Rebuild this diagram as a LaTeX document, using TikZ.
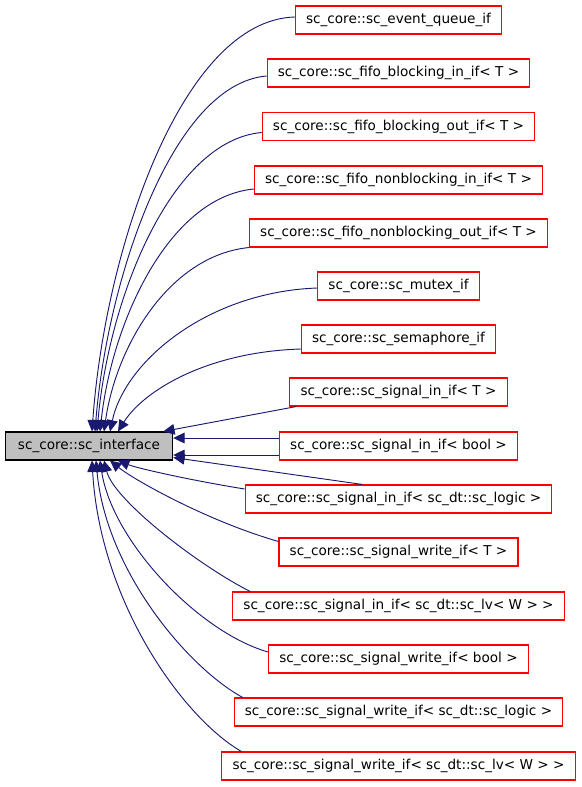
\documentclass[tikz,border=0pt]{standalone}
\usepackage{fontspec}
\setmainfont{DejaVu Sans}
\usetikzlibrary{arrows.meta,calc}
\definecolor{dgEdge}{HTML}{191970}
\definecolor{dgRed}{HTML}{FF0000}
\definecolor{dgGray}{HTML}{BFBFBF}
\tikzset{
  cls/.style={draw=dgRed, line width=0.8pt, fill=white, minimum height=21pt,
    inner xsep=8pt, inner ysep=0pt, font=\fontsize{10.2}{12}\selectfont},
  base/.style={cls, draw=black, fill=dgGray, inner xsep=9.5pt},
  inh/.style={-{Triangle[length=8.5pt,width=8pt]}, line width=0.7pt, dgEdge},
}
\begin{document}
\begin{tikzpicture}[x=0.75pt,y=-0.75pt]
  \useasboundingbox (0,0) rectangle (581,787);
  \node[base] (root) at (89,446) {sc\_core::sc\_interface};
  \node[cls] (eq)     at (398.5,20)  {sc\_core::sc\_event\_queue\_if};
  \node[cls] (fbi)    at (398.5,73)  {sc\_core::sc\_fifo\_blocking\_in\_if< T >};
  \node[cls] (fbo)    at (398.5,126.5) {sc\_core::sc\_fifo\_blocking\_out\_if< T >};
  \node[cls] (fni)    at (398.5,180) {sc\_core::sc\_fifo\_nonblocking\_in\_if< T >};
  \node[cls] (fno)    at (398.5,233) {sc\_core::sc\_fifo\_nonblocking\_out\_if< T >};
  \node[cls] (mutex)  at (398.5,286) {sc\_core::sc\_mutex\_if};
  \node[cls] (sema)   at (398.5,339) {sc\_core::sc\_semaphore\_if};
  \node[cls] (sigT)   at (398.5,392) {sc\_core::sc\_signal\_in\_if< T >};
  \node[cls] (sigB)   at (398.5,446) {sc\_core::sc\_signal\_in\_if< bool >};
  \node[cls] (sigL)   at (398.5,499) {sc\_core::sc\_signal\_in\_if< sc\_dt::sc\_logic >};
  \node[cls] (wrT)    at (398.5,552) {sc\_core::sc\_signal\_write\_if< T >};
  \node[cls] (sigLv)  at (398.5,606) {sc\_core::sc\_signal\_in\_if< sc\_dt::sc\_lv< W > >};
  \node[cls] (wrB)    at (398.5,659) {sc\_core::sc\_signal\_write\_if< bool >};
  \node[cls] (wrL)    at (398.5,712) {sc\_core::sc\_signal\_write\_if< sc\_dt::sc\_logic >};
  \node[cls] (wrLv)   at (398.5,766) {sc\_core::sc\_signal\_write\_if< sc\_dt::sc\_lv< W > >};

  \draw[inh] ($(eq.west)+(0,-3)$) .. controls +(-113,3) and +(13,-182) .. ($(root.north)+(3,0)$);
  \draw[inh] ($(fbi.west)+(0,3)$) .. controls +(-95,8) and +(12,-150) .. ($(root.north)+(6,0)$);
  \draw[inh] ($(fbo.west)+(0,6)$) .. controls +(-90,8) and +(12,-135) .. ($(root.north)+(8,0)$);
  \draw[inh] ($(fni.west)+(0,9)$) .. controls +(-85,8) and +(12,-110) .. ($(root.north)+(11,0)$);
  \draw[inh] (fno.south west) .. controls +(-80,8) and +(12,-85) .. ($(root.north)+(15,0)$);
  \draw[inh] ($(mutex.west)+(0,2)$) .. controls +(-110,4) and +(15,-70) .. ($(root.north)+(21,0)$);
  \draw[inh] ($(sema.west)+(0,10)$) .. controls +(-95,3) and +(25,-40) .. ($(root.north)+(29,0)$);
  \draw[inh] ($(sigT.south west)+(7,0)$) -- ($(root.north east)+(-10,0)$);
  \draw[inh] ($(sigB.west)+(0,-8)$) -- ($(root.east)+(0,-8)$);
  \draw[inh] ($(sigB.west)+(0,9)$) -- ($(root.east)+(0,9)$);
  \draw[inh] ($(sigL.north)+(-36,0)$) -- ($(root.south east)+(0,-3)$);
  \draw[inh] ($(sigL.west)+(0,-10)$) .. controls +(-50,-8) and +(20,8) .. ($(root.south)+(29,0)$);
  \draw[inh] ($(wrT.north west)+(0,4)$) .. controls +(-70,-20) and +(25,20) .. ($(root.south)+(21,0)$);
  \draw[inh] ($(sigLv.north west)+(18,0)$) .. controls +(-50,-25) and +(10,40) .. ($(root.south)+(15,0)$);
  \draw[inh] ($(wrB.west)+(0,-7)$) .. controls +(-70,-20) and +(12,80) .. ($(root.south)+(11,0)$);
  \draw[inh] ($(wrL.north west)+(9,0)$) .. controls +(-55,-30) and +(10,110) .. ($(root.south)+(7,0)$);
  \draw[inh] ($(wrLv.north west)+(20,0)$) .. controls +(-60,-35) and +(8,140) .. ($(root.south)+(3,0)$);
\end{tikzpicture}
\end{document}
